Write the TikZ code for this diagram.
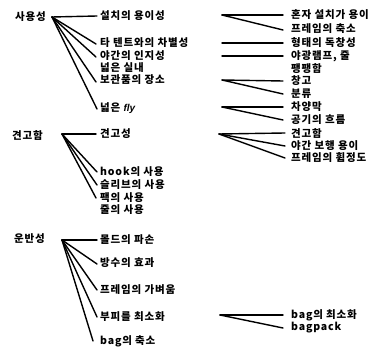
\documentclass[tikz,border=0pt]{standalone}
\usepackage{fontspec}
\setmainfont{Noto Sans CJK KR}[LetterSpace=8]
\newfontfamily\latinit{Liberation Sans}[Scale=0.95]
\begin{document}
\begin{tikzpicture}[x=1pt,y=-1pt,
  lbl/.style={anchor=west,inner sep=0pt,font=\fontsize{10.5}{12}\selectfont\bfseries},
  conn/.style={line width=1.4pt,line cap=round}]
\useasboundingbox (0,0) rectangle (385,352);
% top-level
\node[lbl] (p1) at (15,17) {사용성};
\node[lbl] (p2) at (12,135) {견고함};
\node[lbl] (p3) at (14,239) {운반성};
\coordinate (f1) at (52,17);
\coordinate (f2) at (62,134);
\coordinate (f3) at (62,240);
% middle column
\node[lbl] (a1) at (100,16) {설치의 용이성};
\node[lbl] (a2) at (100,43) {타 텐트와의 차별성};
\node[lbl] (a3) at (100,56) {야간의 인지성};
\node[lbl] (a4) at (100,68) {넓은 실내};
\node[lbl] (a5) at (100,80) {보관품의 장소};
\node[lbl] (a6) at (100,108) {넓은 {\latinit\itshape fly}};
\node[lbl] (b1) at (100,134) {견고성};
\node[lbl] (b2) at (100,172) {hook의 사용};
\node[lbl] (b3) at (100,185) {슬리브의 사용};
\node[lbl] (b4) at (100,198) {팩의 사용};
\node[lbl] (b5) at (100,210) {줄의 사용};
\node[lbl] (c1) at (100,240) {몰드의 파손};
\node[lbl] (c2) at (100,263) {방수의 효과};
\node[lbl] (c3) at (100,290) {프레임의 가벼움};
\node[lbl] (c4) at (100,317) {부피를 최소화};
\node[lbl] (c5) at (100,341) {bag의 축소};
% right column
\node[lbl] (r1) at (291,15) {혼자 설치가 용이};
\node[lbl] (r2) at (291,29) {프레임의 축소};
\node[lbl] (r3) at (291,43) {형태의 독창성};
\node[lbl] (r4) at (291,56) {야광램프, 줄};
\node[lbl] (r5) at (291,69) {팽팽함};
\node[lbl] (r6) at (291,81) {창고};
\node[lbl] (r7) at (291,94) {분류};
\node[lbl] (r8) at (291,107) {차양막};
\node[lbl] (r9) at (291,120) {공기의 흐름};
\node[lbl] (r10) at (291,133) {견고함};
\node[lbl] (r11) at (291,146) {야간 보행 용이};
\node[lbl] (r12) at (291,158) {프레임의 휨정도};
\node[lbl] (r13) at (291,315) {bag의 최소화};
\node[lbl] (r14) at (291,328) {bagpack};
% second-level fan origins
\coordinate (g1) at (222,15);
\coordinate (g2) at (222,43);
\coordinate (g3) at (222,56);
\coordinate (g5) at (222,80);
\coordinate (g6) at (222,107);
\coordinate (h1) at (219,134);
\coordinate (k4) at (220,315);
% first-level connectors
\draw[conn] (f1) -- ([xshift=-3pt]a1.west);
\draw[conn] (f1) -- ([xshift=-4pt,yshift=-1pt]a2.west);
\draw[conn] (f1) -- ([xshift=-4pt,yshift=-1pt]a3.west);
\draw[conn] (f1) -- ([xshift=-4pt,yshift=-2pt]a5.west);
\draw[conn] (f1) -- ([xshift=-3pt,yshift=-1pt]a6.west);
\draw[conn] (f2) -- ([xshift=-4pt]b1.west);
\draw[conn] (f2) -- ([xshift=-3pt]b2.west);
\draw[conn] (f2) -- ([xshift=-3pt]b3.west);
\draw[conn] (f2) -- ([xshift=-4pt]b4.west);
\draw[conn] (f3) -- ([xshift=-3pt]c1.west);
\draw[conn] (f3) -- ([xshift=-3pt,yshift=-1pt]c2.west);
\draw[conn] (f3) -- ([xshift=-3pt]c3.west);
\draw[conn] (f3) -- ([xshift=-3pt]c4.west);
\draw[conn] (f3) -- ([xshift=-7pt]c5.west);
% second-level connectors
\draw[conn] (g1) -- ([xshift=-8pt]r1.west);
\draw[conn] (g1) -- ([xshift=-8pt,yshift=-1pt]r2.west);
\draw[conn] (g2) -- ([xshift=-8pt]r3.west);
\draw[conn] (g3) -- ([xshift=-8pt]r4.west);
\draw[conn] (g5) -- ([xshift=-8pt]r6.west);
\draw[conn] (g5) -- ([xshift=-8pt]r7.west);
\draw[conn] (g6) -- ([xshift=-8pt]r8.west);
\draw[conn] (g6) -- ([xshift=-8pt]r9.west);
\draw[conn] (h1) -- ([xshift=-6pt]r10.west);
\draw[conn] (h1) -- ([xshift=-6pt]r11.west);
\draw[conn] (h1) -- ([xshift=-6pt]r12.west);
\draw[conn] (k4) -- ([xshift=-8pt]r13.west);
\draw[conn] (k4) -- ([xshift=-8pt]r14.west);
\end{tikzpicture}
\end{document}
